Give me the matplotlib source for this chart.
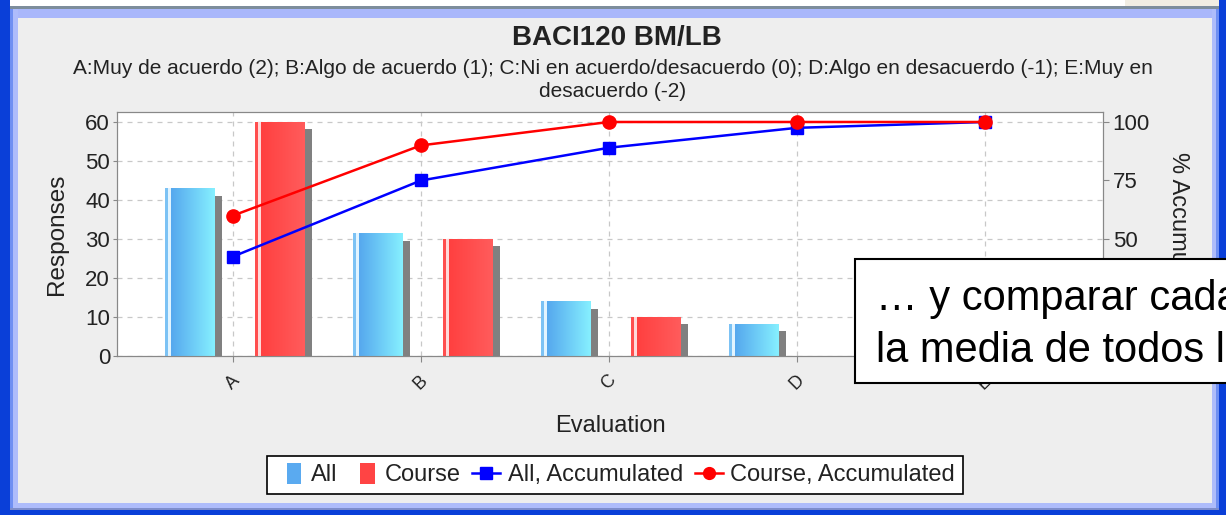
import numpy as np
import matplotlib
matplotlib.use("Agg")
import matplotlib.pyplot as plt
from matplotlib.patches import Rectangle, Patch
from matplotlib.lines import Line2D
from matplotlib.colors import to_rgb
from matplotlib.legend_handler import HandlerPatch

# ---------------- data ----------------
categories = ["A", "B", "C", "D", "E"]
all_values = [43, 31.5, 14, 8.3, 3]
course_values = [60, 30, 10, 0, 0]
all_accum = [42.5, 75, 89, 97.5, 100]
course_accum = [60, 90, 100, 100, 100]
left_ticks = [0, 10, 20, 30, 40, 50, 60]
right_ticks = [0, 25, 50, 75, 100]
right_tick_labels = ["", "", "50", "75", "100"]   # lower two hidden under the slide box

title = "BACI120 BM/LB"
subtitle = ("A:Muy de acuerdo (2); B:Algo de acuerdo (1); C:Ni en acuerdo/desacuerdo (0); "
            "D:Algo en desacuerdo (-1); E:Muy en\ndesacuerdo (-2)")
overlay_lines = ["\u2026 y comparar cada uno con", "la media de todos los cursos"]

FONT = "Liberation Sans"
plt.rcParams["font.family"] = [FONT, "DejaVu Sans"]
TXT = "#222222"

W, H = 1226, 515
fig = plt.figure(figsize=(W / 100, H / 100), dpi=100, facecolor="#eeeeee")


def frect(x0, y0, x1, y1, color, z=-5):
    fig.add_artist(Rectangle((x0 / W, 1 - y1 / H), (x1 - x0) / W, (y1 - y0) / H,
                             transform=fig.transFigure, facecolor=color,
                             edgecolor="none", zorder=z))


# ---------------- window frame ----------------
frect(0, 0, W, 6, "#ffffff")
frect(1125, 0, W, 6, "#f1ede3")
frect(0, 6, W, 9, "#7d8d9c")
frect(0, 9, W, 18, "#a9b7fb")
frect(0, 0, 10, H, "#0a3fd8")
frect(10, 9, 13, H, "#6f8ff2")
frect(13, 9, 18, H, "#aebcfb")
frect(1212, 9, 1216, H, "#aebcfb")
frect(1216, 9, 1219, H, "#6f8ff2")
frect(1219, 0, W, H, "#0a3fd8")
frect(13, 503, 1216, 508, "#aebcfb")
frect(10, 508, 1219, 510, "#7d8dcc")
frect(0, 510, W, H, "#0a3fd8")

# ---------------- axes ----------------
L, R, T, B = 117, 1103, 112, 356
ax = fig.add_axes([L / W, 1 - B / H, (R - L) / W, (B - T) / H])
ax.set_facecolor("white")
x = np.arange(len(categories))

bar_w = 0.262
off_all, off_course = -0.232, 0.247
shadow_dx, shadow_drop = 0.043, 1.9


def gradient(stripe, gap, c0, c1, n=300):
    arr = np.zeros((1, n, 3))
    s, g, a, b = map(lambda c: np.array(to_rgb(c)), (stripe, gap, c0, c1))
    for i in range(n):
        f = i / (n - 1)
        if f < 0.055:
            arr[0, i] = s
        elif f < 0.13:
            arr[0, i] = g
        else:
            t = (f - 0.13) / 0.87
            arr[0, i] = (1 - t) * a + t * b
    return arr


grad_all = gradient("#7cc2f4", "#e2f4ff", "#56a8ee", "#86f0ff")
grad_course = gradient("#ff4e4e", "#ffd9d9", "#ff4040", "#ff5c5c")

for vals, off, grad, base in [(all_values, off_all, grad_all, "#5aaaf0"),
                              (course_values, off_course, grad_course, "#ff4444")]:
    v = np.array(vals, dtype=float)
    ax.bar(x + off + shadow_dx, np.maximum(v - shadow_drop, 0), width=bar_w,
           color="#808080", zorder=2, linewidth=0)
    bars = ax.bar(x + off, v, width=bar_w, color=base, zorder=3, linewidth=0)
    for p in bars.patches:
        h = p.get_height()
        if h <= 0:
            continue
        x0, w = p.get_x(), p.get_width()
        im = ax.imshow(grad, extent=(x0, x0 + w, 0, h), aspect="auto",
                       interpolation="nearest", zorder=3.5)
        im.set_clip_path(p)

ax.set_xlim(-0.617, 4.628)
ax.set_ylim(0, 62.56)
ax.set_xticks(x)
ax.set_xticklabels(categories, rotation=45, ha="center", va="center",
                   fontsize=13, color=TXT)
ax.set_yticks(left_ticks)
ax.set_yticklabels([str(t) for t in left_ticks], fontsize=16, color=TXT)
ax.tick_params(axis="x", length=4, pad=15, color="#888888")
ax.tick_params(axis="y", length=3, pad=2, color="#888888")
ax.set_axisbelow(True)
ax.grid(True, linestyle=(0, (4, 4)), color="#c8c8c8", linewidth=0.9)
for s in ax.spines.values():
    s.set_color("#888888")
ax.set_ylabel("Responses", fontsize=17.5, color=TXT)
ax.yaxis.set_label_coords((57 - L) / (R - L), 0.5)
ax.yaxis.label.set_va("center")
ax.set_xlabel("Evaluation", fontsize=17, color=TXT)
ax.xaxis.set_label_coords(0.5, -(426 - B) / (B - T))
ax.xaxis.label.set_va("center")

ax2 = ax.twinx()
ax2.set_ylim(0, 62.56 * 100 / 60)
ax2.plot(x, all_accum, color="#0000ff", linewidth=1.8, marker="s",
         markersize=9, zorder=5)
ax2.plot(x, course_accum, color="#ff0000", linewidth=1.8, marker="o",
         markersize=9.5, zorder=6)
ax2.set_yticks(right_ticks)
ax2.set_yticklabels(right_tick_labels, fontsize=16, color=TXT)
ax2.tick_params(axis="y", length=4, pad=3, color="#888888")
for s in ax2.spines.values():
    s.set_color("#888888")
ax2.set_ylabel("% Accumulated", fontsize=17, color=TXT, rotation=-90)
ax2.yaxis.set_label_coords((1178 - L) / (R - L), 0.5)
ax2.yaxis.label.set_va("center")
ax2.yaxis.label.set_ha("center")

# ---------------- titles ----------------
fig.text(617 / W, 1 - 38 / H, title, ha="center", va="center",
         fontsize=20, fontweight="bold", color=TXT)
fig.text(613 / W, 1 - 80 / H, subtitle, ha="center", va="center",
         fontsize=15, color=TXT, linespacing=1.28)

# ---------------- legend ----------------
def narrow_patch(legend, orig_handle, xdescent, ydescent, width, height, fontsize):
    return Rectangle((-xdescent + width * 0.4, -ydescent - height * 0.2),
                     width * 0.52, height * 1.3)


handles = [Patch(facecolor="#5aaaf0"), Patch(facecolor="#ff4444"),
           Line2D([], [], color="#0000ff", marker="s", markersize=8, linewidth=1.8),
           Line2D([], [], color="#ff0000", marker="o", markersize=8.5, linewidth=1.8)]
labels = ["All", "Course", "All, Accumulated", "Course, Accumulated"]
leg = fig.legend(handles, labels, loc="center", bbox_to_anchor=(615 / W, 1 - 475 / H),
                 ncol=4, fontsize=17, frameon=True, fancybox=False,
                 edgecolor="black", framealpha=1, borderpad=0.35,
                 handlelength=1.2, handletextpad=0.3, columnspacing=0.5,
                 borderaxespad=0,
                 handler_map={Patch: HandlerPatch(patch_func=narrow_patch)})
leg.get_frame().set_linewidth(1.2)
for t in leg.get_texts():
    t.set_color(TXT)

# ---------------- overlay text box ----------------
fig.add_artist(Rectangle((855 / W, 1 - 383 / H), (W + 20 - 855) / W, (383 - 259) / H,
                         transform=fig.transFigure, facecolor="white",
                         edgecolor="black", linewidth=1.5, zorder=20))
for line, base_y in zip(overlay_lines, [310, 362]):
    fig.text(876 / W, 1 - base_y / H, line, ha="left", va="baseline",
             fontsize=30, color="black", zorder=21)

fig.savefig("out.png", dpi=100, facecolor=fig.get_facecolor())
